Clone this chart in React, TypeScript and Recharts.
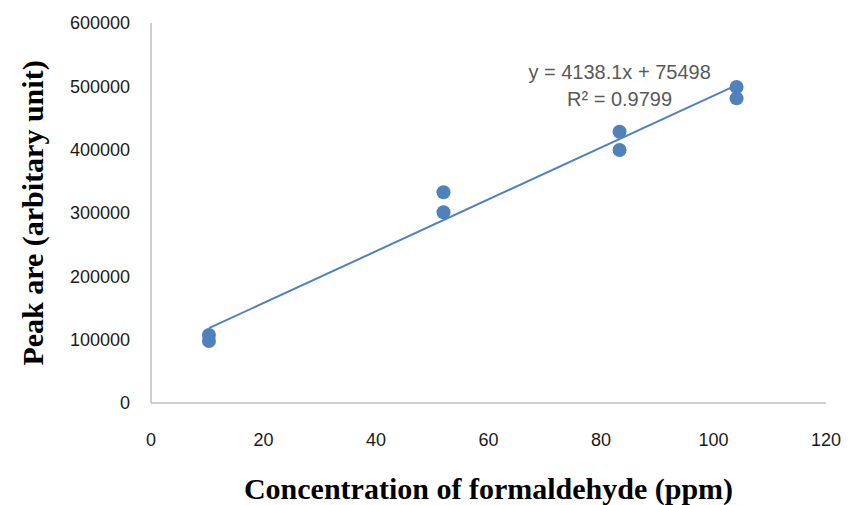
import { ReferenceDot, Scatter, ScatterChart, XAxis, YAxis } from "recharts";

const concentration = [10.3, 10.3, 52, 52, 83.3, 83.3, 104.1, 104.1];
const peakArea = [107400, 97900, 332700, 301100, 428400, 399500, 499000, 481000];

const trendX = [10.3, 104.1];
const trendY = [118100, 502000];

const xTicks = [0, 20, 40, 60, 80, 100, 120];
const yTicks = [0, 100000, 200000, 300000, 400000, 500000, 600000];

const equationText = "y = 4138.1x + 75498";
const r2Text = "R² = 0.9799";

const points = concentration.map((x, i) => ({ x, y: peakArea[i] }));
const trend = trendX.map((x, i) => ({ x, y: trendY[i] }));

const blue = "#4f81bd";
const axisGray = "#bfbfbf";
const tickFont = { fontFamily: "Liberation Sans, Arial, sans-serif", fontSize: 18, fill: "#1a1a1a" };
const titleFont = { fontFamily: "Liberation Serif, Times New Roman, serif", fontSize: 30, fontWeight: 700, fill: "#000" };
const noteFont = { fontFamily: "Liberation Sans, Arial, sans-serif", fontSize: 20, fill: "#595959" };

export default function App() {
  return (
    <div style={{ position: "absolute", left: 0, top: 0, background: "#fff" }}>
      <ScatterChart width={853} height={505} margin={{ top: 23, right: 27, bottom: 25, left: 0 }}>
        <XAxis
          type="number"
          dataKey="x"
          domain={[0, 120]}
          ticks={xTicks}
          tickLine={false}
          tickSize={28}
          tickMargin={2}
          tick={tickFont}
          height={77}
          stroke={axisGray}
          strokeWidth={1.5}
          label={{ value: "Concentration of formaldehyde (ppm)", position: "insideBottom", offset: -19, style: titleFont }}
        />
        <YAxis
          type="number"
          dataKey="y"
          domain={[0, 600000]}
          ticks={yTicks}
          tickLine={false}
          tickSize={20}
          tickMargin={1}
          tick={tickFont}
          width={151}
          stroke={axisGray}
          strokeWidth={1.5}
          label={{
            value: "Peak are (arbitary unit)",
            angle: -90,
            position: "insideLeft",
            offset: 32,
            style: { ...titleFont, textAnchor: "middle" },
          }}
        />
        <Scatter
          data={trend}
          line={{ stroke: blue, strokeWidth: 2 }}
          shape={() => null}
          isAnimationActive={false}
        />
        <Scatter data={points} fill={blue} shape={(p: any) => <circle cx={p.cx} cy={p.cy} r={7} fill={blue} />} isAnimationActive={false} />
        <ReferenceDot x={83.3} y={522600} r={0} stroke="none" label={{ value: equationText, position: "center", style: noteFont }} />
        <ReferenceDot x={83.3} y={480000} r={0} stroke="none" label={{ value: r2Text, position: "center", style: noteFont }} />
      </ScatterChart>
    </div>
  );
}
